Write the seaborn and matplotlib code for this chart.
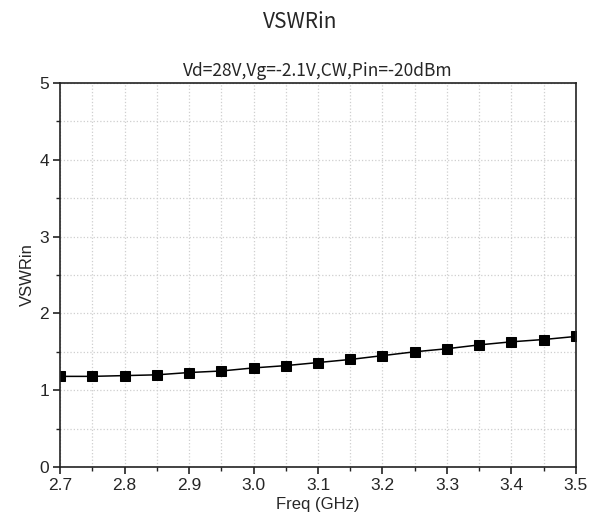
import numpy as np
import pandas as pd
import matplotlib
matplotlib.use("Agg")
import matplotlib.pyplot as plt
from matplotlib.ticker import MultipleLocator
import seaborn as sns

freq = [2.70, 2.75, 2.80, 2.85, 2.90, 2.95, 3.00, 3.05, 3.10,
        3.15, 3.20, 3.25, 3.30, 3.35, 3.40, 3.45, 3.50]
vswr = [1.18, 1.18, 1.19, 1.20, 1.23, 1.25, 1.29, 1.32, 1.36,
        1.40, 1.45, 1.50, 1.54, 1.59, 1.63, 1.66, 1.70]
x_ticks = [2.7, 2.8, 2.9, 3.0, 3.1, 3.2, 3.3, 3.4, 3.5]
y_ticks = [0, 1, 2, 3, 4, 5]

sns.set_theme(style="white")
plt.rcParams['font.family'] = ['Liberation Sans', 'DejaVu Sans']

df = pd.DataFrame({"freq": freq, "vswr": vswr})

fig = plt.figure(figsize=(5.96, 5.24), dpi=100)
ax = fig.add_axes([0.1007, 0.1088, 0.8657, 0.7328])

sns.lineplot(data=df, x="freq", y="vswr", ax=ax, color="black", linewidth=1.1,
             marker="s", markersize=7.5, markeredgecolor="black", markerfacecolor="black")

ax.set_xlim(2.7, 3.5)
ax.set_ylim(0, 5)
ax.set_xticks(x_ticks)
ax.set_xticklabels([f"{v:.1f}" for v in x_ticks])
ax.set_yticks(y_ticks)
ax.xaxis.set_minor_locator(MultipleLocator(0.05))
ax.yaxis.set_minor_locator(MultipleLocator(0.5))

ax.grid(True, which="both", color="#cfcfcf", linestyle=":", linewidth=0.9)
for s in ax.spines.values():
    s.set_color("#222222")
    s.set_linewidth(1.2)

ax.tick_params(axis="both", which="major", direction="out", length=5, width=1.2,
               labelsize=12.5, color="#222222", left=True, bottom=True, pad=3)
ax.tick_params(axis="both", which="minor", direction="out", length=3, width=1.0,
               color="#222222", left=True, bottom=True)

ax.set_xlabel("Freq (GHz)", fontsize=12, labelpad=3)
ax.set_ylabel("VSWRin", fontsize=12, labelpad=3)

ax.set_title("Vd=28V,Vg=-2.1V,CW,Pin=-20dBm", fontsize=12.5, pad=5,
             family=['Noto Sans CJK SC', 'DejaVu Sans'])
fig.text(0.503, 0.958, "VSWRin", ha="center", va="center", fontsize=15,
         family=['Noto Sans CJK SC', 'DejaVu Sans'], fontweight="light")

fig.savefig("out.png", dpi=100)
